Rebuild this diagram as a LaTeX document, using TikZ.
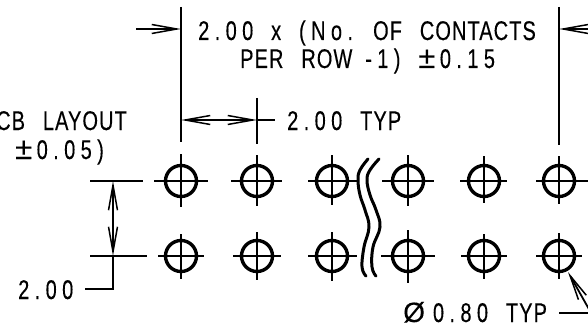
\documentclass[tikz,border=0pt]{standalone}
\usepackage{fontspec}
\usetikzlibrary{arrows.meta}
\newfontfamily\dimfont[FakeStretch=0.74,FakeBold=0.25,LetterSpace=4,WordSpace=2.7]{Liberation Sans}
\newfontfamily\numfont[FakeStretch=0.74,FakeBold=0.25,LetterSpace=20,WordSpace=2.7]{Liberation Sans}
\newfontfamily\symfont[FakeBold=0.1]{Liberation Sans}
\newcommand{\plusminus}{{\symfont\fontsize{31}{31}\selectfont ±}}
\newcommand{\diam}{{\symfont\fontsize{28}{28}\selectfont Ø}}
\tikzset{
  hole/.style={circle,draw,line width=3.4pt,minimum size=31pt,inner sep=0pt},
  thin line/.style={line width=1.8pt},
  wave/.style={line width=3pt,line cap=round},
  barb/.tip={Straight Barb[length=25pt,width=9pt,line width=1.5pt]},
  dimarrow/.style={line width=1.8pt,-barb},
  dimarrows/.style={line width=1.8pt,barb-barb},
  label/.style={anchor=base west,inner sep=0pt,font=\dimfont\fontsize{27}{27}\selectfont,text=black}
}
\begin{document}
\begin{tikzpicture}[x=1pt,y=-1pt]
\path[use as bounding box,fill=white] (0,0) rectangle (588,326);
\clip (0,0) rectangle (588,326);
% holes
\node[hole] (a1) at (181,181) {};
\node[hole] (a2) at (257,181) {};
\node[hole] (a3) at (332,181) {};
\node[hole] (a4) at (408,181) {};
\node[hole] (a5) at (484,181) {};
\node[hole] (a6) at (559,181) {};
\node[hole] (b1) at (181,256) {};
\node[hole] (b2) at (257,256) {};
\node[hole] (b3) at (332,256) {};
\node[hole] (b4) at (408,256) {};
\node[hole] (b5) at (484,256) {};
\node[hole] (b6) at (559,256) {};
% centre marks
\foreach \n/\l/\r/\t/\b in {a1/27/27/27/26,a2/26/25/26/25,a3/24/25/26/24,a4/26/26/26/25,a5/24/23/25/22,a6/23/29/25/23,
  b1/23/23/22/23,b2/24/24/24/24,b3/24/25/24/25,b4/27/27/26/27,b5/23/23/22/23,b6/23/23/23/23}{
  \draw[thin line] (\n.center) ++(-\l,0) -- ++({\l+\r},0);
  \draw[thin line] (\n.center) ++(0,-\t) -- ++(0,{\t+\b});
}
% break lines
\draw[wave] plot[smooth,tension=.7] coordinates {(368,159) (360,170) (358,180) (360,195) (365,210) (369,227) (364,247) (362,267) (366,276)};
\draw[wave] plot[smooth,tension=.7] coordinates {(379,159) (370,170) (367,180) (370,195) (376,210) (380,227) (373,247) (372,267) (376,276)};
% extension lines
\coordinate (e1t) at (181,7);
\coordinate (e1b) at (181,142);
\coordinate (e2t) at (559,7);
\coordinate (e2b) at (559,145);
\coordinate (e3t) at (257,98);
\coordinate (e3b) at (257,144);
\draw[thin line] (e1t) -- (e1b);
\draw[thin line] (e2t) -- (e2b);
\draw[thin line] (e3t) -- (e3b);
\coordinate (rowa1) at (90,181);
\coordinate (rowa2) at (143,181);
\coordinate (rowb1) at (90,256);
\coordinate (rowb2) at (147,256);
\draw[thin line] (rowa1) -- (rowa2);
\draw[thin line] (rowb1) -- (rowb2);
% dimensions
\coordinate (t1s) at (136,29);
\coordinate (t1e) at (181,29);
\coordinate (t2s) at (590,29);
\coordinate (t2e) at (559,29);
\draw[dimarrow] (t1s) -- (t1e);
\draw[dimarrow] (t2s) -- (t2e);
\coordinate (p1) at (181,120);
\coordinate (p2) at (257,120);
\coordinate (p3) at (275,120);
\draw[dimarrows] (p1) -- (p2);
\draw[thin line] (p2) -- (p3);
\coordinate (v1) at (113,181);
\coordinate (v2) at (113,256);
\coordinate (v3) at (113,289);
\coordinate (v4) at (85,289);
\draw[dimarrows] (v1) -- (v2);
\draw[thin line] (v2) -- (v3) -- (v4);
% diameter leader
\coordinate (d1) at (590,311);
\coordinate (d2) at (568,272);
\coordinate (d3) at (559,313);
\coordinate (d4) at (588,313);
\draw[dimarrow] (d1) -- (d2);
\draw[thin line] (d3) -- (d4);
% labels
\node[label] (t1) at (198,40) {{\numfont 2.00} x {\numfont(No.} OF CONTACTS};
\node[label] (t2) at (240,68) {PER ROW\hspace{-5pt} {\numfont-1)} \plusminus{\numfont\,0.15}};
\node[label] (t3) at (287,130) {{\numfont 2.00} TYP};
\node[label] (t4) at (-4,130) {CB LAYOUT};
\node[label] (t5) at (15,159) {\plusminus{\numfont\,0.05)}};
\node[label] (t6) at (18,299) {{\numfont 2.00}};
\node[label] (t7) at (403,322) {\diam\hspace{8pt}{\numfont 0.80} TYP};
\end{tikzpicture}
\end{document}
